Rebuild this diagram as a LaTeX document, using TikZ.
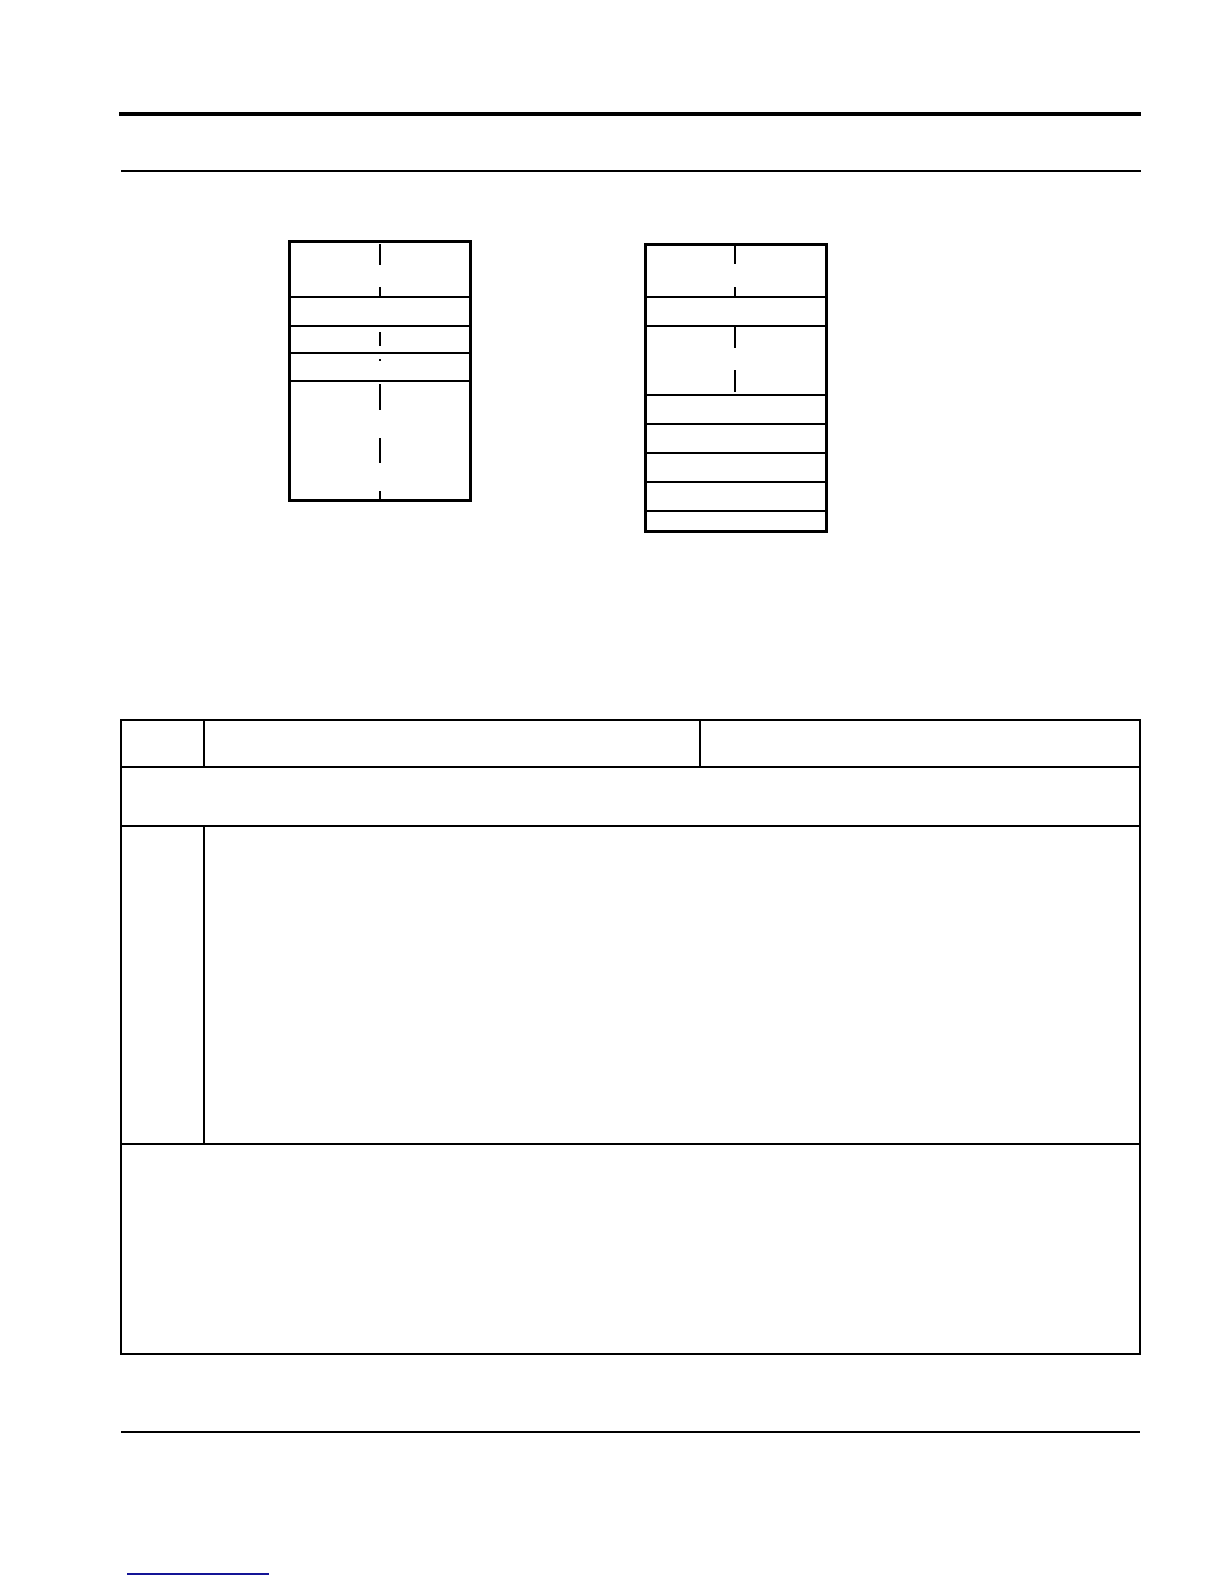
\documentclass[tikz,border=0pt]{standalone}
\begin{document}
\begin{tikzpicture}[x=1pt,y=-1pt,
  frame/.style={line width=3pt},
  thin/.style={line width=1.8pt},
  thick3/.style={line width=2.8pt},
  tab/.style={line width=1.8pt},
  cl/.style={line width=2.2pt},
  rule/.style={line width=1.5pt}]
\useasboundingbox[fill=white] (0,0) rectangle (1224,1584);
% top rules
\draw[line width=4.5pt] (119,114) -- (1141,114);
\draw[rule] (121,171) -- (1141,171);
% left box
\draw[frame] (289,241) rectangle (470,500);
\draw[thin] (289,297) -- (470,297);
\draw[thick3] (289,326) -- (470,326);
\draw[thick3] (289,353) -- (470,353);
\draw[thin] (289,381) -- (470,381);
\foreach \a/\b in {244/265,287/297,332/346,359/361,384/410,438/463,491/500}
  \draw[cl] (380,\a) -- (380,\b);
% right box
\draw[frame] (645,244) rectangle (826,531);
\draw[thin] (645,297) -- (826,297);
\foreach \yy in {326,395,424,453,482,511}
  \draw[thick3] (645,\yy) -- (826,\yy);
\foreach \a/\b in {245/264,287/297,327/348,370/392}
  \draw[cl] (735,\a) -- (735,\b);
% table
\draw[tab] (121,720) rectangle (1140,1354);
\draw[tab] (121,767) -- (1140,767);
\draw[tab] (121,826) -- (1140,826);
\draw[tab] (121,1144) -- (1140,1144);
\draw[tab] (204,720) -- (204,767);
\draw[line width=2.8pt] (700,720) -- (700,767);
\draw[tab] (204,826) -- (204,1144);
% bottom rule
\draw[rule] (121,1432) -- (1140,1432);
\draw[line width=1.5pt, color={rgb,255:red,20;green,20;blue,150}] (127,1574) -- (269,1574);
\end{tikzpicture}
\end{document}
